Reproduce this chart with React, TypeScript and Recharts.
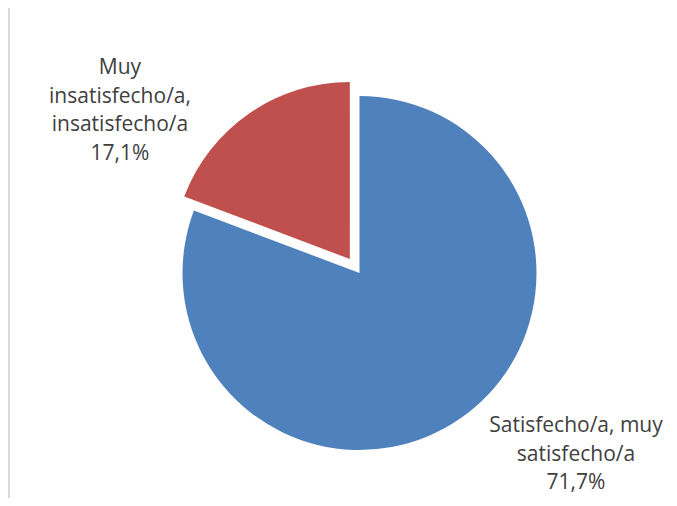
import { PieChart, Pie, Cell } from "recharts"

const categories = ["Satisfecho/a, muy satisfecho/a", "Muy insatisfecho/a, insatisfecho/a"]
const shares = [71.7, 17.1]
const labelText = [
  ["Satisfecho/a, muy", "satisfecho/a"],
  ["Muy", "insatisfecho/a,", "insatisfecho/a"],
]
const colors = ["#4F81BD", "#C0504D"]

const data = categories.map((name, i) => ({ name, value: shares[i] }))

// chart geometry
const CX = 359.5
const CY = 273
const R = 177
const START = 90
const END = -270
const EXPLODE = 17
const explodedIndex = 1

const total = shares.reduce((a, b) => a + b, 0)
const before = shares.slice(0, explodedIndex).reduce((a, b) => a + b, 0)
const midAngle = START - (360 * (before + shares[explodedIndex] / 2)) / total
const rad = (midAngle * Math.PI) / 180
const CX2 = CX + EXPLODE * Math.cos(rad)
const CY2 = CY - EXPLODE * Math.sin(rad)

// where Excel put each label, relative to the pie centre
const labelPos = [
  { dx: 216.5, dy: 159 },
  { dx: -239.5, dy: -199 },
]
const LINE = 28.7

const fmt = (v: number) => v.toFixed(1).replace(".", ",") + "%"

function renderLabel(props: any) {
  const { index } = props
  const pos = labelPos[index]
  const x = CX + pos.dx
  const lines = [...labelText[index], fmt(shares[index])]
  return (
    <text
      key={`lbl-${index}`}
      x={x}
      y={CY + pos.dy}
      textAnchor="middle"
      fill="#404040"
      fontSize={21}
      fontFamily="'Open Sans', sans-serif"
    >
      {lines.map((l, i) => (
        <tspan key={i} x={x} y={CY + pos.dy + i * LINE}>
          {l}
        </tspan>
      ))}
    </text>
  )
}

export default function App() {
  return (
    <div
      style={{
        margin: -8,
        position: "relative",
        width: 677,
        height: 506,
        overflow: "hidden",
        background: "#fff",
      }}
    >
      <div
        style={{
          position: "absolute",
          left: 8,
          top: 5,
          width: 720,
          height: 620,
          border: "2px solid #d9d9d9",
        }}
      />
      <div style={{ position: "absolute", left: 0, top: 0 }}>
        <PieChart width={677} height={506} margin={{ top: 0, right: 0, bottom: 0, left: 0 }}>
          <Pie
            data={data}
            dataKey="value"
            nameKey="name"
            cx={CX}
            cy={CY}
            outerRadius={R}
            startAngle={START}
            endAngle={END}
            stroke="none"
            label={renderLabel}
            labelLine={false}
            isAnimationActive={false}
          >
            {data.map((d, i) => (
              <Cell key={d.name} fill={i === explodedIndex ? "transparent" : colors[i]} />
            ))}
          </Pie>
          <Pie
            data={data}
            dataKey="value"
            nameKey="name"
            cx={CX2}
            cy={CY2}
            outerRadius={R}
            startAngle={START}
            endAngle={END}
            stroke="none"
            isAnimationActive={false}
          >
            {data.map((d, i) => (
              <Cell key={d.name} fill={i === explodedIndex ? colors[i] : "transparent"} />
            ))}
          </Pie>
        </PieChart>
      </div>
    </div>
  )
}
